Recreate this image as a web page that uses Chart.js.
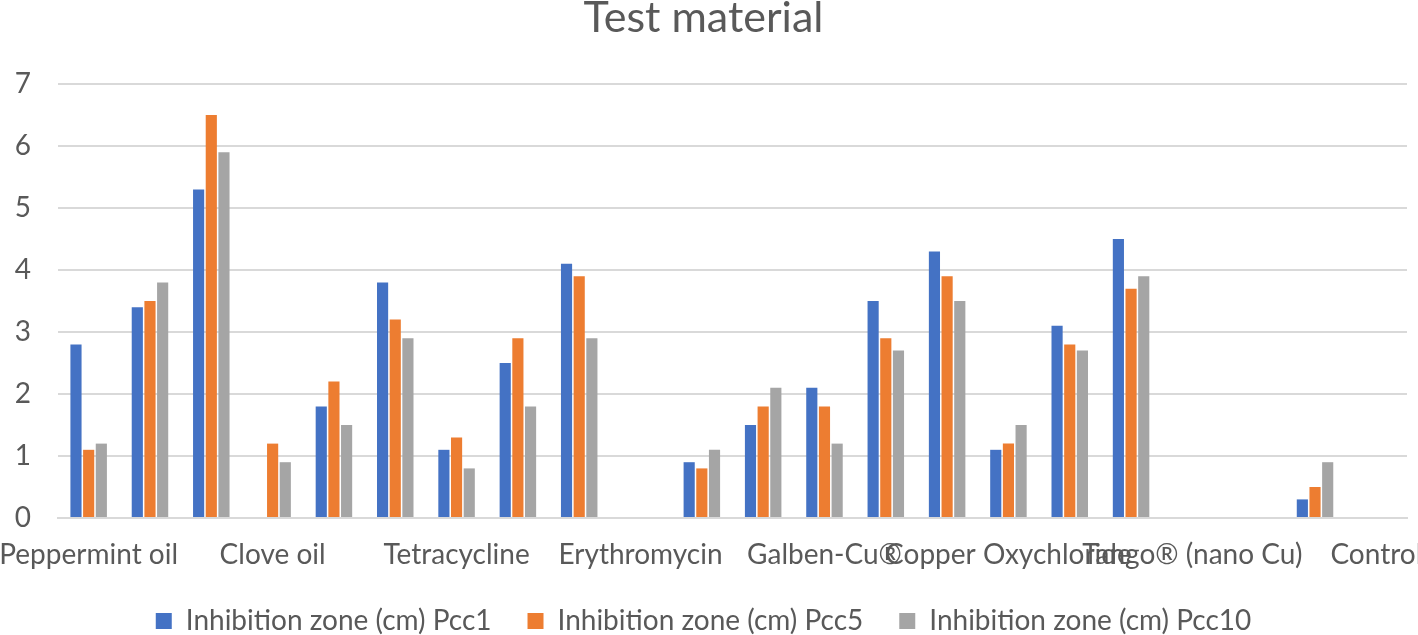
<!DOCTYPE html>
<html>
<head>
<meta charset="utf-8">
<title>Test material</title>
<script src="https://cdn.jsdelivr.net/npm/chart.js@4/dist/chart.umd.min.js"></script>
<style>
    html, body { margin: 0; padding: 0; background: #fff; }
    #wrap { width: 1418px; height: 635px; }
</style>
</head>
<body>
<div id="wrap"><canvas id="chart"></canvas></div>
<script>
// 22 category slots, Excel only shows every third label
const categories = [
    'Peppermint oil', '', '', 'Clove oil', '', '', 'Tetracycline', '', '',
    'Erythromycin', '', '', 'Galben-Cu®', '', '', 'Copper Oxychloride', '', '',
    'Tango® (nano Cu)', '', '', 'Control'
];

const pcc1 = [2.8, 3.4, 5.3, null, 1.8, 3.8, 1.1, 2.5, 4.1, null, 0.9,
              1.5, 2.1, 3.5, 4.3, 1.1, 3.1, 4.5, null, null, 0.3, null];
const pcc5 = [1.1, 3.5, 6.5, 1.2, 2.2, 3.2, 1.3, 2.9, 3.9, null, 0.8,
              1.8, 1.8, 2.9, 3.9, 1.2, 2.8, 3.7, null, null, 0.5, null];
const pcc10 = [1.2, 3.8, 5.9, 0.9, 1.5, 2.9, 0.8, 1.8, 2.9, null, 1.1,
               2.1, 1.2, 2.7, 3.5, 1.5, 2.7, 3.9, null, null, 0.9, null];

const yTicks = [0, 1, 2, 3, 4, 5, 6, 7];

const seriesNames = ['Inhibition zone (cm) Pcc1', 'Inhibition zone (cm) Pcc5', 'Inhibition zone (cm) Pcc10'];
const colors = ['#4472C4', '#ED7D31', '#A5A5A5'];

const fontFamily = 'Lato, "Noto Sans", sans-serif';
const textColor = '#595959';

function makeSet(i, values) {
    return {
        label: seriesNames[i],
        data: values,
        backgroundColor: colors[i],
        borderWidth: 0,
        barPercentage: 0.88,
        categoryPercentage: 0.62
    };
}

new Chart(document.getElementById('chart'), {
    type: 'bar',
    data: {
        labels: categories,
        datasets: [makeSet(0, pcc1), makeSet(1, pcc5), makeSet(2, pcc10)]
    },
    options: {
        responsive: true,
        maintainAspectRatio: false,
        animation: false,
        layout: { padding: { left: 0, right: 11, top: 0, bottom: -10 } },
        plugins: {
            title: {
                display: true,
                text: 'Test material',
                color: textColor,
                font: { family: fontFamily, size: 43, weight: 'normal', lineHeight: 0.85 },
                padding: { top: 0, bottom: 47.5 }
            },
            legend: {
                position: 'bottom',
                labels: {
                    color: textColor,
                    font: { family: fontFamily, size: 28 },
                    boxWidth: 16,
                    boxHeight: 16,
                    padding: 36
                }
            },
            tooltip: { enabled: false }
        },
        scales: {
            x: {
                grid: { display: false, drawTicks: false },
                border: { display: true, color: '#D9D9D9', width: 2 },
                ticks: {
                    color: textColor,
                    font: { family: fontFamily, size: 28 },
                    autoSkip: false,
                    maxRotation: 0,
                    minRotation: 0,
                    padding: 20
                },
                afterFit: s => { s.paddingLeft = 0; s.paddingRight = 0; s.height = 53; }
            },
            y: {
                min: yTicks[0],
                max: yTicks[yTicks.length - 1],
                afterBuildTicks: s => { s.ticks = yTicks.map(v => ({ value: v })); },
                ticks: {
                    color: textColor,
                    font: { family: fontFamily, size: 28 },
                    padding: 27
                },
                grid: { color: '#D9D9D9', lineWidth: 2, drawTicks: false },
                border: { display: false },
                afterFit: s => { s.width = 58; }
            }
        }
    }
});
</script>
</body>
</html>
